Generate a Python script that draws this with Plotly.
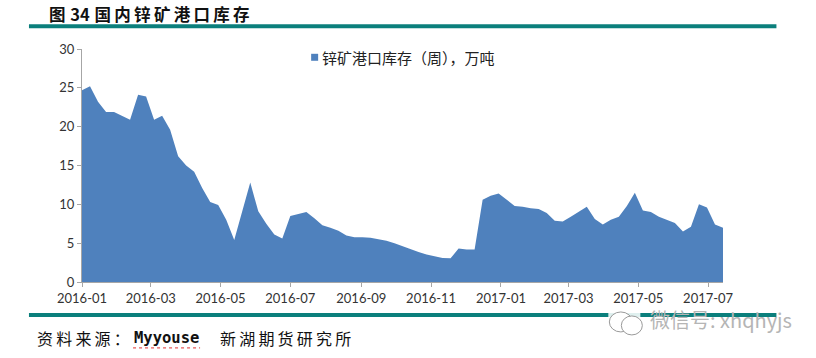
import plotly.graph_objects as go
import pandas as pd

start_date = "2016-01-01"
stock = [24.7, 25.2, 23.2, 21.9, 21.9, 21.4, 20.9, 24.1, 23.9, 20.9,
         21.4, 19.6, 16.2, 15.0, 14.2, 12.1, 10.3, 9.9, 8.0, 5.4,
         9.0, 12.8, 9.1, 7.5, 6.1, 5.6, 8.5, 8.8, 9.0, 8.2,
         7.3, 7.0, 6.6, 6.0, 5.75, 5.75, 5.7, 5.5, 5.3, 5.0,
         4.6, 4.3, 3.85, 3.55, 3.3, 3.1, 3.05, 4.3, 4.2, 4.2,
         10.6, 11.1, 11.4, 10.6, 9.8, 9.7, 9.5, 9.4, 8.9, 7.9,
         7.8, 8.4, 9.0, 9.7, 8.1, 7.4, 8.0, 8.4, 9.8, 11.5,
         9.2, 9.0, 8.4, 8.0, 7.6, 6.5, 7.1, 10.0, 9.6, 7.4, 7.0]
dates = pd.date_range(start_date, periods=len(stock), freq="7D")
series_name = "锌矿港口库存（周），万吨"
tick_months = ["2016-01", "2016-03", "2016-05", "2016-07", "2016-09", "2016-11",
               "2017-01", "2017-03", "2017-05", "2017-07"]
y_ticks = [0, 5, 10, 15, 20, 25, 30]

BLUE = "#4f81bd"
TEAL = "#0b7f7c"
GREY = "#a6a6a6"
CJK = "Noto Sans CJK SC"
W, H = 816, 358
L, R, T, B = 82, 722.6, 48.7, 282

fig = go.Figure()
fig.add_trace(go.Scatter(x=dates, y=stock, mode="lines", fill="tozeroy", name=series_name,
                         fillcolor=BLUE, line=dict(color=BLUE, width=0),
                         showlegend=False, hoverinfo="x+y"))


def fx(x):
    return (x - L) / (R - L)


def fy(y):
    return (B - y) / (B - T)


def rule(x0, y0, x1, y1, color, width, dash="solid"):
    return dict(type="line", xref="paper", yref="paper",
                x0=fx(x0), x1=fx(x1), y0=fy(y0), y1=fy(y1),
                line=dict(color=color, width=width, dash=dash), layer="above")


def bubble(x0, y0, x1, y1):
    return dict(type="circle", xref="paper", yref="paper",
                x0=fx(x0), x1=fx(x1), y0=fy(y0), y1=fy(y1),
                fillcolor="white", line=dict(color="#9a9a9a", width=1), layer="above")


shapes = [
    rule(29, 26, 776, 26, TEAL, 4),
    rule(29, 315, 776, 315, TEAL, 4),
    rule(608, 315, 640, 315, "#dff0ef", 4),
    rule(133, 348, 200, 348, "#e03030", 1, "dot"),
    dict(type="rect", xref="paper", yref="paper", x0=fx(311), x1=fx(318), y0=fy(53.5), y1=fy(60.5),
         fillcolor=BLUE, line=dict(width=0), layer="above"),
    bubble(609, 312, 632, 332),
    bubble(621, 316, 642, 335),
]


def label(x, y, text, size, color="#111111", family=CJK, bold=False):
    t = f"<b>{text}</b>" if bold else text
    return dict(xref="paper", yref="paper", xanchor="left", yanchor="middle",
                x=fx(x), y=fy(y), text=t, showarrow=False,
                font=dict(size=size, color=color, family=family), align="left")


annotations = [
    label(47, 14, "图\u200a 34 \u200a国\u2009内\u2009锌\u2009矿\u2009港\u2009口\u2009库\u2009存", 16.5, bold=True),
    label(35, 338, "资\u2009料\u2009来\u2009源\u2009：", 16),
    label(132, 338, "Myyouse", 15.5, family="DejaVu Sans Mono", bold=True),
    label(218, 338, "新\u2009湖\u2009期\u2009货\u2009研\u2009究\u2009所", 16),
    label(648, 320, "微信号: xhqhyjs", 20, color="#b5b5b5"),
    label(320, 57, series_name, 15, color="#222222"),
]

fig.update_layout(
    width=W, height=H, autosize=False,
    margin=dict(l=L, r=W - R, t=T, b=H - B, pad=0),
    paper_bgcolor="white", plot_bgcolor="white",
    font=dict(family="Lato", size=13, color="#333333"),
    showlegend=False,
    shapes=shapes, annotations=annotations,
    xaxis=dict(type="date", range=[dates[0], dates[-1]], tickvals=[m + "-01" for m in tick_months],
               ticktext=tick_months, showgrid=False, zeroline=False, showline=True,
               linecolor=GREY, linewidth=1, ticks="outside", ticklen=4, tickcolor=GREY),
    yaxis=dict(range=[0, 30], tickvals=y_ticks, showgrid=False, zeroline=False, showline=True,
               linecolor=GREY, linewidth=1, ticks="outside", ticklen=4, tickcolor=GREY),
)
fig.write_html("out.html", config={"displayModeBar": False},
               post_script="document.body.style.margin='0';document.documentElement.style.overflow='hidden';")
